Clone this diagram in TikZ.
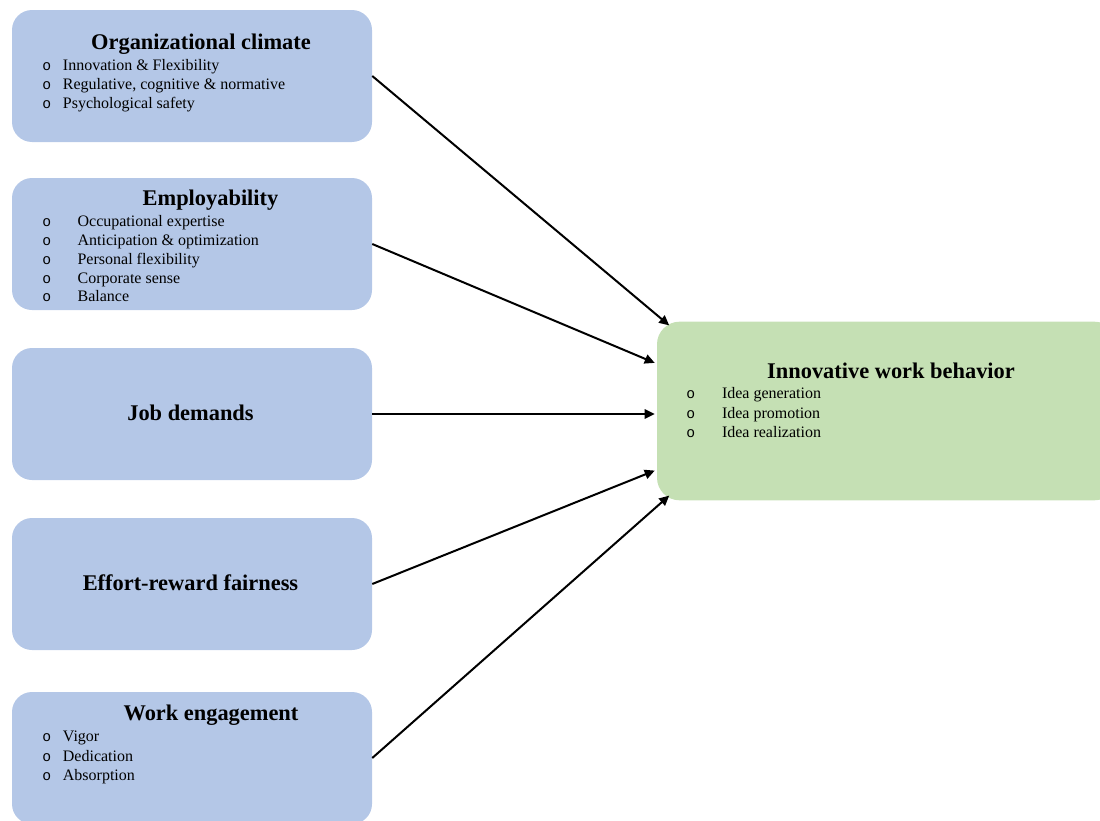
\documentclass[tikz,border=0pt]{standalone}
\usepackage{fontspec}
\setmainfont{Liberation Serif}
\newfontfamily\bulletfont{Liberation Mono}
\usetikzlibrary{arrows.meta,calc}
\definecolor{factorblue}{HTML}{B4C7E7}
\definecolor{outcomegreen}{HTML}{C5E0B4}
% bullet "o" followed by the item text at a fixed indent
\newcommand\bitem[2]{\makebox[#1][l]{\bulletfont\fontsize{11}{12}\selectfont o}#2}
\begin{document}
\begin{tikzpicture}[x=0.75pt,y=-0.75pt,
  factor/.style={fill=factorblue,draw=none,rounded corners=15pt,inner sep=0pt,
    minimum width=270pt,minimum height=99pt},
  outcome/.style={fill=outcomegreen,draw=none,rounded corners=17pt,inner sep=0pt,
    minimum width=345pt,minimum height=134pt},
  heading/.style={inner sep=0pt,anchor=base,font=\fontsize{16.8}{20}\selectfont\bfseries},
  entry/.style={inner sep=0pt,anchor=base west,font=\fontsize{12}{14.5}\selectfont},
  link/.style={line width=1.5pt,-{Triangle[length=7.5pt,width=7pt]}}]
\useasboundingbox (0,0) rectangle (1100,821);
\clip (0,0) rectangle (1100,821);

% predictor boxes
\node[factor] (oc) at (192,76) {};
\node[factor] (emp) at (192,244) {};
\node[factor] (jd) at (192,414) {};
\node[factor] (erf) at (192,584) {};
\node[factor] (we) at (192,758) {};
% outcome box
\node[outcome] (iwb) at (887,411) {};

% Organizational climate
\node[heading] (ocT) at (201,49) {Organizational climate};
\node[entry] (oc1) at (42,70) {\bitem{15.5pt}{Innovation \& Flexibility}};
\node[entry] (oc2) at (42,89.3) {\bitem{15.5pt}{Regulative, cognitive \& normative}};
\node[entry] (oc3) at (42,108.6) {\bitem{15.5pt}{Psychological safety}};

% Employability
\node[heading] (empT) at (210.5,205) {Employability};
\node[entry] (emp1) at (42,226) {\bitem{26.5pt}{Occupational expertise}};
\node[entry] (emp2) at (42,245) {\bitem{26.5pt}{Anticipation \& optimization}};
\node[entry] (emp3) at (42,264) {\bitem{26.5pt}{Personal flexibility}};
\node[entry] (emp4) at (42,283.3) {\bitem{26.5pt}{Corporate sense}};
\node[entry] (emp5) at (42,301.7) {\bitem{26.5pt}{Balance}};

% single-label boxes
\node[heading] (jdT) at (190.5,420.7) {Job demands};
\node[heading] (erfT) at (190.5,590.7) {Effort-reward fairness};

% Work engagement
\node[heading] (weT) at (211,720) {Work engagement};
\node[entry] (we1) at (42,741.7) {\bitem{15.5pt}{Vigor}};
\node[entry] (we2) at (42,761) {\bitem{15.5pt}{Dedication}};
\node[entry] (we3) at (42,780.3) {\bitem{15.5pt}{Absorption}};

% Innovative work behavior
\node[heading] (iwbT) at (891,378) {Innovative work behavior};
\node[entry] (iwb1) at (686,398.3) {\bitem{26.8pt}{Idea generation}};
\node[entry] (iwb2) at (686,418) {\bitem{26.8pt}{Idea promotion}};
\node[entry] (iwb3) at (686,437.6) {\bitem{26.8pt}{Idea realization}};

% paths into the outcome
\draw[link] (oc.east) -- ($(iwb.north west)+(12.5,4)$);
\draw[link] (emp.east) -- ($(iwb.north west)+(-2,41.5)$);
\draw[link] (jd.east) -- ($(jd.east -| iwb.west)+(-2,0)$);
\draw[link] (erf.east) -- ($(iwb.south west)+(-2,-30)$);
\draw[link] (we.east) -- ($(iwb.south west)+(12.5,-5)$);
\end{tikzpicture}
\end{document}
